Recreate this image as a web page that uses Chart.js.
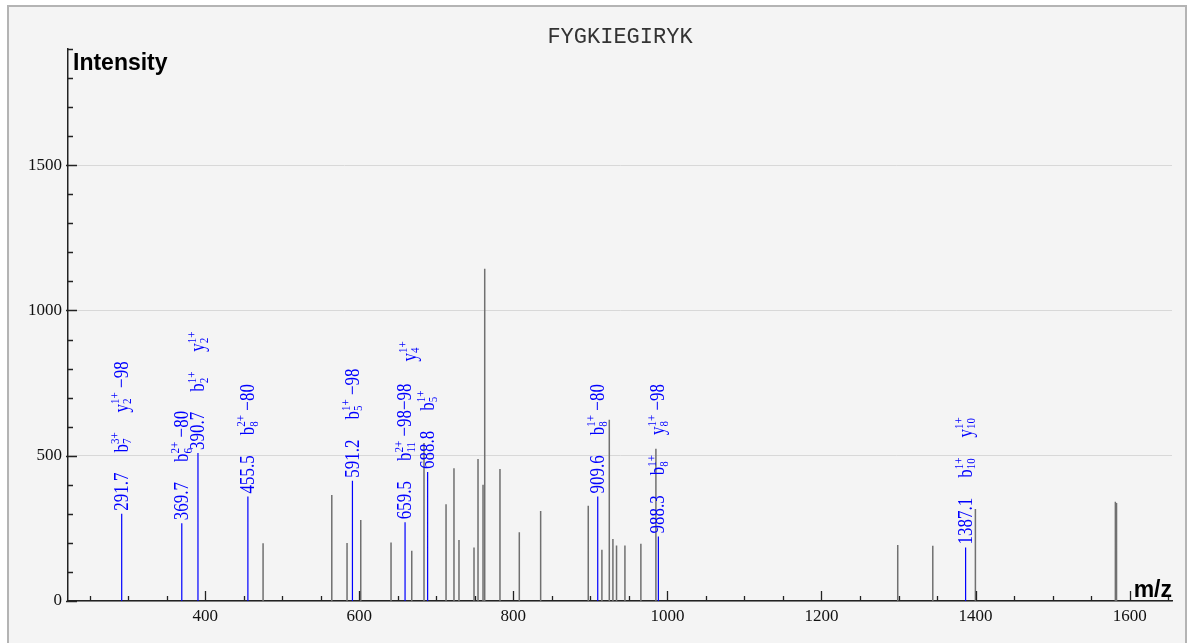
<!DOCTYPE html>
<html>
<head>
<meta charset="utf-8">
<script src="https://cdn.jsdelivr.net/npm/chart.js@4/dist/chart.umd.min.js"></script>
<style>
  html, body { margin: 0; padding: 0; background: #fff; }
  #wrap { position: relative; width: 1188px; height: 643px; overflow: hidden; }
  #panel { position: absolute; left: 7px; top: 5px; width: 1176px; height: 680px; border: 2px solid #b4b4b4; background: #f4f4f4; }
  #spec { position: absolute; left: 0; top: 0; }
</style>
</head>
<body>
<div id="wrap"><div id="panel"></div><canvas id="spec" width="1188" height="643"></canvas></div>
<script>
// spectrum data (m/z, intensity)
var peptide = "FYGKIEGIRYK";

var matchedMz  = [291.7, 369.7, 390.7, 455.5, 591.2, 659.5, 688.8, 909.6, 988.3, 1387.1];
var matchedInt = [300, 268, 509, 360, 414, 271, 444, 360, 222, 184];
var matchedIons = [
  ["b_7^3+", "y_2^1+ −98"],
  ["b_6^2+ −80"],
  ["b_2^1+", "y_2^1+"],
  ["b_8^2+ −80"],
  ["b_5^1+ −98"],
  ["b_11^2+ −98−98"],
  ["b_5^1+", "y_4^1+"],
  ["b_8^1+ −80"],
  ["b_8^1+", "y_8^1+ −98"],
  ["b_10^1+", "y_10^1+"]
];

var otherMz  = [475.2, 564.4, 584.2, 602.0, 641.3, 668.2, 684.1, 712.7, 723.0, 729.5, 749.0, 754.2, 760.7, 762.9, 782.7,
                807.8, 835.5, 897.3, 915.0, 924.6, 929.3, 934.0, 944.9, 965.6, 985.1, 1299.0, 1344.5, 1399.8, 1581.5, 1583.0];
var otherInt = [199, 365, 200, 279, 201, 173, 544, 333, 457, 210, 184, 489, 400, 1144, 454,
                237, 310, 328, 176, 624, 213, 191, 191, 197, 524, 193, 190, 317, 342, 337];

var xTickVals = [400, 600, 800, 1000, 1200, 1400, 1600];
var yTickVals = [0, 500, 1000, 1500];
var xMinorTicks = [250, 300, 350, 400, 450, 500, 550, 600, 650, 700, 750, 800, 850, 900, 950, 1000,
                   1050, 1100, 1150, 1200, 1250, 1300, 1350, 1400, 1450, 1500, 1550, 1600, 1650];
var yMinorTicks = [0, 100, 200, 300, 400, 500, 600, 700, 800, 900, 1000, 1100, 1200, 1300, 1400, 1500, 1600, 1700, 1800, 1900];

function stems(mz, inten) {
  var pts = [];
  for (var i = 0; i < mz.length; i++) {
    pts.push({ x: mz[i], y: 0 }, { x: mz[i], y: inten[i] }, { x: mz[i], y: null });
  }
  return pts;
}

var SERIF = '"Liberation Serif", "DejaVu Serif", serif';

// draws e.g. "b_7^3+ −98" along the local x axis (already rotated)
function drawIon(ctx, str, bl) {
  var m = str.match(/^([a-z])_(\d+)\^(\d\+)(.*)$/);
  if (!m) { ctx.font = '17px ' + SERIF; ctx.fillText(str, 0, bl); return ctx.measureText(str).width; }
  ctx.font = '17px ' + SERIF;
  ctx.fillText(m[1], 0, bl);
  var w = ctx.measureText(m[1]).width;
  ctx.font = '11px ' + SERIF;
  ctx.fillText(m[2], w, bl + 3);
  ctx.fillText(m[3], w, bl - 7);
  var adv = Math.max(ctx.measureText(m[2]).width, ctx.measureText(m[3]).width);
  w += adv;
  if (m[4]) {
    ctx.font = '17px ' + SERIF;
    ctx.fillText(m[4], w, bl);
    w += ctx.measureText(m[4]).width;
  }
  return w;
}

// nudges for labels that the original moved aside
var labelNudge = { "6-1": [-18, -9] };

var annotate = {
  id: "annotate",
  afterDatasetsDraw: function(chart) {
    var ctx = chart.ctx, xs = chart.scales.x, ys = chart.scales.y;
    ctx.save();
    ctx.fillStyle = "#0000ff";
    ctx.textAlign = "left";
    ctx.textBaseline = "alphabetic";
    for (var i = 0; i < matchedMz.length; i++) {
      var px = xs.getPixelForValue(matchedMz[i]);
      var start = ys.getPixelForValue(matchedInt[i]) - 3;
      var items = [matchedMz[i].toFixed(1)].concat(matchedIons[i]);
      for (var k = 0; k < items.length; k++) {
        var nud = labelNudge[i + "-" + (k - 1)] || [0, 0];
        ctx.save();
        ctx.translate(px + nud[0], start + nud[1]);
        ctx.rotate(-Math.PI / 2);
        ctx.scale(1, 1.22);   // glyphs in the original are drawn taller
        var len = drawIon(ctx, items[k], 5);
        ctx.restore();
        start = start - len - 20;
      }
    }
    ctx.restore();
  },
  afterDraw: function(chart) {
    var ctx = chart.ctx, xs = chart.scales.x, ys = chart.scales.y, a = chart.chartArea;
    ctx.save();
    // minor / major ticks pointing inward
    ctx.strokeStyle = "#222";
    ctx.lineWidth = 1.3;
    ctx.beginPath();
    yMinorTicks.forEach(function(v) {
      var y = Math.round(ys.getPixelForValue(v)) + 0.5;
      var major = v % 500 === 0;
      ctx.moveTo(a.left - (major ? 2 : 0), y);
      ctx.lineTo(a.left + (major ? 9 : 5), y);
    });
    xMinorTicks.forEach(function(v) {
      var x = Math.round(xs.getPixelForValue(v)) + 0.5;
      var major = v % 200 === 0;
      ctx.moveTo(x, a.bottom);
      ctx.lineTo(x, a.bottom - (major ? 10 : 5));
    });
    ctx.stroke();
    // title and axis names
    ctx.fillStyle = "#333";
    ctx.font = '22px "Liberation Mono", monospace';
    ctx.textAlign = "center";
    ctx.fillText(peptide, (a.left + a.right) / 2, 43);
    ctx.fillStyle = "#000";
    ctx.font = 'bold 23px "Liberation Sans", Arial, sans-serif';
    ctx.textAlign = "left";
    ctx.fillText("Intensity", a.left + 5, 70);
    ctx.textAlign = "right";
    ctx.fillText("m/z", a.right, a.bottom - 4);
    ctx.restore();
  }
};

function plain(v) { return String(v); }

new Chart(document.getElementById("spec"), {
  type: "line",
  data: {
    datasets: [
      { data: stems(otherMz, otherInt), borderColor: "#707070", borderWidth: 1.5, pointRadius: 0, spanGaps: false, tension: 0 },
      { data: stems(matchedMz, matchedInt), borderColor: "#0000ff", borderWidth: 1.2, pointRadius: 0, spanGaps: false, tension: 0 }
    ]
  },
  options: {
    responsive: false,
    animation: false,
    layout: { padding: { top: 49, right: 16, left: 0, bottom: 0 } },
    plugins: { legend: { display: false }, tooltip: { enabled: false } },
    scales: {
      x: {
        type: "linear", min: 222, max: 1655,
        afterBuildTicks: function(s) { s.ticks = xTickVals.map(function(v) { return { value: v }; }); },
        afterFit: function(s) { s.height = 42; },
        grid: { display: false, drawTicks: false },
        border: { display: true, color: "#222", width: 1.5 },
        ticks: { autoSkip: false, maxRotation: 0, padding: 5, color: "#111", font: { family: SERIF, size: 17 }, callback: plain }
      },
      y: {
        type: "linear", min: 0, max: 1900,
        afterBuildTicks: function(s) { s.ticks = yTickVals.map(function(v) { return { value: v }; }); },
        afterFit: function(s) { s.width = 68; },
        grid: { color: "#d8d8d8", lineWidth: 1, drawTicks: false },
        border: { display: true, color: "#222", width: 1.5 },
        ticks: { padding: 6, color: "#111", font: { family: SERIF, size: 17 }, callback: plain }
      }
    }
  },
  plugins: [annotate]
});
</script>
</body>
</html>
